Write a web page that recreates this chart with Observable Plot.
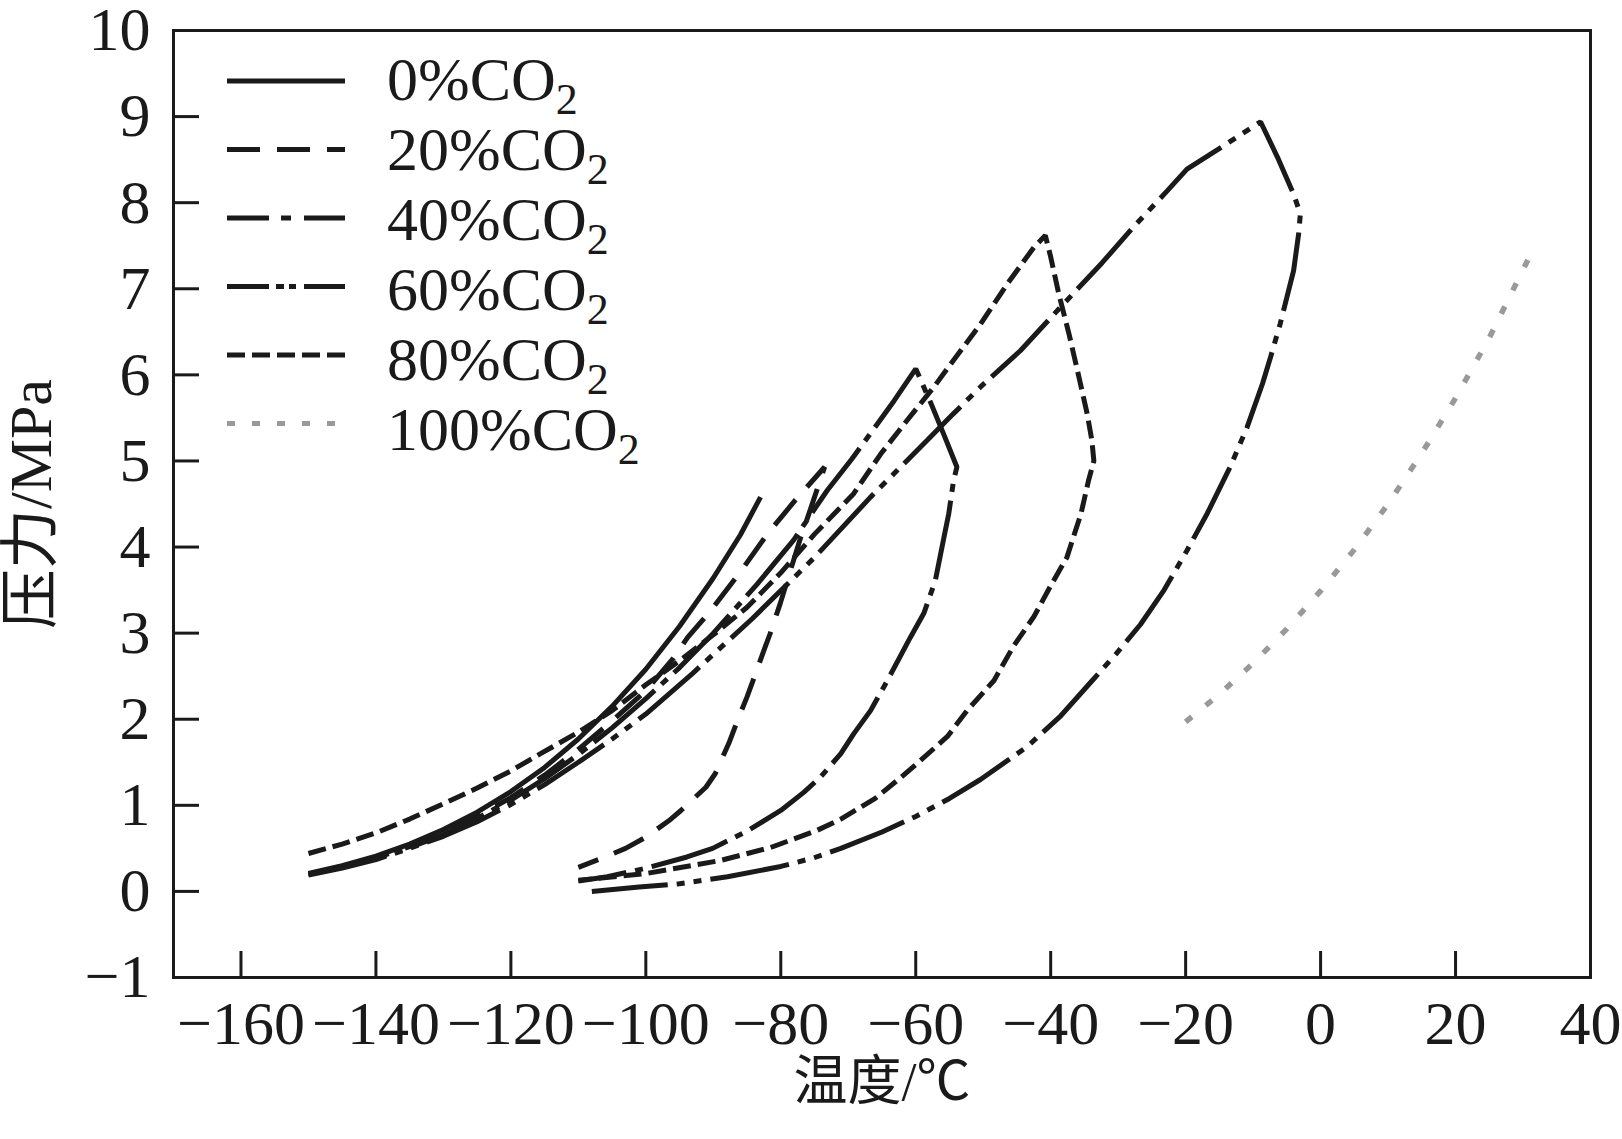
<!DOCTYPE html>
<html>
<head>
<meta charset="utf-8">
<script src="https://cdn.jsdelivr.net/npm/d3@7"></script>
<script src="https://cdn.jsdelivr.net/npm/@observablehq/plot@0.6"></script>
<style>
html, body { margin: 0; padding: 0; background: #fff; }
#wrap { position: relative; width: 1622px; height: 1139px; }
#legend { position: absolute; left: 0; top: 0; pointer-events: none; }
</style>
</head>
<body>
<div id="wrap"></div>
<script>
// ---------- data (temperature °C, pressure MPa) ----------
const xTicks = [-160, -140, -120, -100, -80, -60, -40, -20, 0, 20, 40];
const yTicks = [-1, 0, 1, 2, 3, 4, 5, 6, 7, 8, 9, 10];
const xTitle = "温度/℃";
const yTitle = "压力/MPa";
const seriesNames = ["0%CO2", "20%CO2", "40%CO2", "60%CO2", "80%CO2", "100%CO2"];

const co2_0 = [[-150,0.21],[-145,0.3],[-140,0.41],[-135,0.55],[-130,0.72],[-125,0.92],[-120,1.16],[-115,1.44],[-110,1.77],[-105,2.15],[-100,2.58],[-95,3.08],[-90,3.64],[-86,4.14],[-83,4.58]];

const co2_20_bubble = [[-150,0.2],[-145,0.28],[-140,0.39],[-135,0.52],[-130,0.68],[-125,0.87],[-120,1.09],[-115,1.35],[-110,1.65],[-105,1.98],[-100,2.33],[-96,2.7],[-93.8,2.95],[-90.6,3.24],[-86,3.71],[-82,4.15],[-78,4.53],[-73.5,4.93]];
const co2_20_dew = [[-73.5,4.93],[-75.6,4.44],[-77.1,4.1],[-80.1,3.34],[-81.6,2.99],[-82.5,2.8],[-84.2,2.43],[-85,2.26],[-86.4,1.99],[-87.7,1.72],[-89.7,1.37],[-91.1,1.21],[-94.8,0.94],[-96.6,0.82],[-100,0.63],[-103,0.5],[-107,0.37],[-110,0.28]];

const co2_40_bubble = [[-150,0.2],[-145,0.28],[-140,0.38],[-135,0.51],[-130,0.66],[-125,0.85],[-120,1.06],[-115,1.31],[-110,1.59],[-105,1.9],[-100,2.24],[-95,2.6],[-90,3.0],[-86,3.35],[-83.5,3.57],[-78.1,4.08],[-75.1,4.43],[-73.1,4.66],[-69.5,5.02],[-66.7,5.32],[-63.2,5.7],[-60,6.07]];
const co2_40_dew = [[-60,6.07],[-57.8,5.68],[-55.8,5.3],[-53.9,4.93],[-54.4,4.77],[-55.1,4.39],[-55.8,4.12],[-57.1,3.61],[-58.8,3.23],[-60.8,2.95],[-64.2,2.45],[-66.7,2.1],[-69.2,1.83],[-71.1,1.6],[-74.1,1.33],[-76.6,1.15],[-80,0.94],[-85,0.7],[-90.1,0.5],[-93.9,0.4],[-100,0.27],[-105.7,0.17],[-110,0.12]];

const co2_60_bubble = [[-150,0.19],[-145,0.27],[-140,0.37],[-135,0.5],[-130,0.64],[-125,0.81],[-120,1.01],[-115,1.24],[-110,1.5],[-105,1.77],[-100,2.06],[-93.1,2.53],[-84.2,3.17],[-75,3.88],[-66.7,4.58],[-58.3,5.24],[-54.4,5.55],[-50.4,5.86],[-44.5,6.28],[-38.5,6.79],[-32.4,7.3],[-27.7,7.72],[-22.7,8.14],[-19.8,8.39],[-14.4,8.66],[-8.9,8.94]];
const co2_60_dew = [[-8.9,8.94],[-6.4,8.53],[-4.0,8.1],[-3.0,7.87],[-3.25,7.64],[-4.0,7.21],[-5.0,6.9],[-6.0,6.59],[-7.4,6.21],[-8.6,5.9],[-10.9,5.39],[-13.4,4.93],[-16.8,4.39],[-19.8,3.96],[-23.2,3.5],[-26.7,3.1],[-30.3,2.76],[-33.6,2.47],[-38.5,2.04],[-43.5,1.68],[-50.4,1.3],[-55,1.08],[-60,0.87],[-65,0.69],[-71.1,0.5],[-75.1,0.39],[-80,0.29],[-87.9,0.17],[-95,0.09],[-101,0.05],[-108,0.0]];

const co2_80_bubble = [[-150,0.44],[-145,0.55],[-140,0.68],[-135,0.84],[-129.4,1.04],[-125,1.2],[-120,1.4],[-115.6,1.6],[-110,1.85],[-105,2.1],[-100,2.4],[-95,2.68],[-90,2.98],[-85,3.3],[-80,3.7],[-75,4.15],[-69.2,4.62],[-65.2,5.08],[-61.3,5.47],[-57.3,5.86],[-54.4,6.17],[-50.4,6.59],[-46.4,7.06],[-42.5,7.48],[-40.8,7.62]];
const co2_80_dew = [[-40.8,7.62],[-40,7.37],[-38.8,6.94],[-37.3,6.48],[-35.8,5.97],[-34.6,5.55],[-33.9,5.24],[-33.6,5.0],[-34.4,4.77],[-35.5,4.39],[-37.6,3.88],[-40,3.55],[-42.5,3.19],[-45.5,2.85],[-48.4,2.45],[-52.4,2.1],[-55.3,1.8],[-59.3,1.52],[-61.8,1.35],[-66,1.08],[-71.1,0.84],[-74.6,0.71],[-81.5,0.51],[-88.9,0.36],[-99.8,0.21],[-110,0.13]];

const co2_100 = [[-20,1.97],[-15,2.29],[-10,2.65],[-5,3.05],[0,3.49],[5,3.97],[10,4.5],[15,5.09],[20,5.73],[25,6.43],[31,7.38]];

// ---------- styles ----------
const INK = "#1a1a1a";
const GREY = "#999999";
const FONT = '"Liberation Serif", "Times New Roman", "Noto Sans CJK SC", serif';
const seriesColor = [INK, INK, INK, INK, INK, GREY];
const seriesWidth = [5, 5, 5, 5, 5, 5.5];
const curveDash = [null, "33,17", "80,9,8,9", "80,9,8,9,8,9", "18,7", "8,18"];
const legendDash = [null, "33,17", "42,12,10,13", "42,7,8,5,7,8", "18,7", "8,17"];

const seriesPoints = [
  co2_0,
  co2_20_bubble.concat(co2_20_dew.slice(1)),
  co2_40_bubble.concat(co2_40_dew.slice(1)),
  co2_60_bubble.concat(co2_60_dew.slice(1)),
  co2_80_bubble.concat(co2_80_dew.slice(1)),
  co2_100
];

const rows = seriesNames.flatMap((name, i) =>
  seriesPoints[i].map(([T, P]) => ({series: name, T, P})));

const lineMarks = seriesNames.map((name, i) =>
  Plot.line(rows.filter(d => d.series === name), {
    x: "T", y: "P",
    stroke: seriesColor[i],
    strokeWidth: seriesWidth[i],
    strokeDasharray: curveDash[i] ?? undefined,
    strokeLinecap: "butt",
    strokeLinejoin: "miter",
    curve: "linear"
  }));

const chart = Plot.plot({
  width: 1622,
  height: 1139,
  marginLeft: 173,
  marginRight: 32,
  marginTop: 30,
  marginBottom: 162,
  x: {domain: [-170, 40]},
  y: {domain: [-1, 10]},
  style: {fontFamily: FONT, fontSize: "62px", color: INK, background: "#fff", overflow: "visible"},
  marks: [
    ...lineMarks,
    Plot.frame({stroke: INK, strokeWidth: 3}),
    Plot.axisX({ticks: xTicks, tickSize: -26, fill: "none", stroke: INK, strokeWidth: 3, label: null}),
    Plot.axisX({ticks: xTicks, tickSize: 0, tickPadding: 22, fill: INK, label: null, fontSize: 62}),
    Plot.axisY({ticks: yTicks, tickSize: -26, fill: "none", stroke: INK, strokeWidth: 3, label: null}),
    Plot.axisY({ticks: yTicks, tickSize: 0, tickPadding: 23, fill: INK, label: null, fontSize: 62}),
    Plot.text([xTitle], {text: d => d, frameAnchor: "bottom", dy: 122, lineAnchor: "bottom", fontSize: 54, fill: INK}),
    Plot.text([yTitle], {text: d => d, frameAnchor: "left", dx: -142, rotate: -90, textAnchor: "middle", fontSize: 60, fill: INK})
  ]
});

const wrap = document.getElementById("wrap");
wrap.appendChild(chart);

// ---------- legend overlay ----------
const legendX1 = 227, legendX2 = 345, legendTextX = 387;
const legendLineY = seriesNames.map((_, i) => 81 + 68.5 * i);
const legendBaseY = seriesNames.map((_, i) => 100 + 70 * i);

const leg = d3.select(wrap).append("svg")
  .attr("id", "legend")
  .attr("width", 1622).attr("height", 1139)
  .attr("font-family", FONT);

seriesNames.forEach((name, i) => {
  leg.append("line")
    .attr("x1", legendX1).attr("x2", legendX2)
    .attr("y1", legendLineY[i]).attr("y2", legendLineY[i])
    .attr("stroke", seriesColor[i])
    .attr("stroke-width", i === 5 ? 5 : 4.8)
    .attr("stroke-dasharray", legendDash[i])
    .attr("stroke-linecap", "butt");
  const m = name.match(/^(.*CO)(2)$/);
  const t = leg.append("text")
    .attr("x", legendTextX).attr("y", legendBaseY[i])
    .attr("font-size", 62).attr("fill", INK);
  t.append("tspan").text(m[1]);
  t.append("tspan").attr("font-size", 44).attr("dy", 14).text(m[2]);
});
</script>
</body>
</html>
